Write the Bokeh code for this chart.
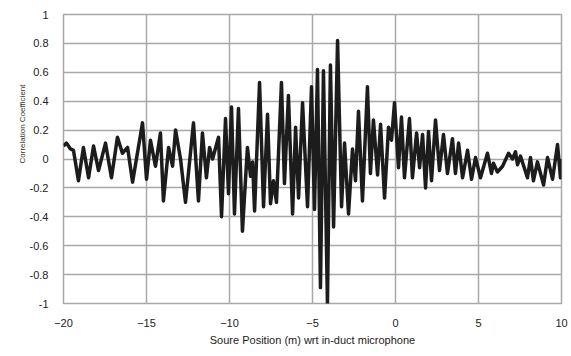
from bokeh.plotting import figure
from bokeh.models import FixedTicker, Title
from bokeh.embed import file_html
from bokeh.resources import INLINE

# Source position (m) and correlation coefficient
position = [-20.00, -19.82, -19.58, -19.40, -19.10, -18.80, -18.49, -18.19, -17.89, -17.47,
            -17.11, -16.75, -16.45, -16.14, -15.84, -15.24, -15.00, -14.76, -14.46, -14.16,
            -13.98, -13.67, -13.43, -13.25, -12.95, -12.65, -12.17, -11.87, -11.63, -11.39,
            -11.20, -11.02, -10.66, -10.48, -10.24, -10.06, -9.88, -9.70, -9.46, -9.22,
            -8.92, -8.73, -8.61, -8.49, -8.19, -7.95, -7.71, -7.53, -7.35, -7.17,
            -6.87, -6.69, -6.45, -6.20, -6.02, -5.84, -5.60, -5.30, -5.06, -4.88,
            -4.70, -4.52, -4.34, -4.10, -3.92, -3.73, -3.49, -3.25, -3.07, -2.83,
            -2.59, -2.41, -2.23, -1.99, -1.69, -1.51, -1.33, -1.08, -0.90, -0.66,
            -0.42, -0.24, -0.06, 0.18, 0.36, 0.54, 0.84, 1.02, 1.27, 1.45,
            1.63, 1.81, 1.99, 2.17, 2.41, 2.65, 2.89, 3.13, 3.43, 3.61,
            3.80, 4.04, 4.34, 4.58, 4.82, 5.12, 5.54, 5.78, 5.90, 6.14,
            6.45, 6.81, 7.05, 7.23, 7.35, 7.53, 7.95, 8.13, 8.31, 8.55,
            8.92, 9.16, 9.46, 9.76, 9.94, 10.00]
correlation = [0.09, 0.11, 0.07, 0.06, -0.15, 0.08, -0.13, 0.09, -0.08, 0.11,
               -0.13, 0.15, 0.04, 0.08, -0.16, 0.25, -0.14, 0.13, -0.05, 0.18,
               -0.29, 0.08, -0.05, 0.20, 0.00, -0.30, 0.25, -0.29, 0.18, -0.13,
               0.08, 0.00, 0.15, -0.40, 0.28, -0.24, 0.36, -0.38, 0.35, -0.50,
               0.08, -0.12, -0.02, -0.36, 0.53, -0.33, 0.31, -0.31, -0.15, -0.30,
               0.53, -0.17, 0.44, -0.38, 0.22, -0.27, 0.39, -0.33, 0.50, -0.35,
               0.62, -0.89, 0.61, -1.00, 0.65, -0.47, 0.82, -0.33, 0.11, -0.38,
               0.07, -0.15, 0.33, -0.29, 0.50, -0.10, 0.27, -0.11, 0.24, -0.27,
               0.22, 0.13, 0.39, -0.06, 0.29, -0.13, 0.28, -0.13, 0.18, -0.06,
               0.17, -0.20, 0.19, -0.15, 0.27, -0.08, 0.17, -0.10, 0.14, -0.10,
               0.11, -0.13, 0.06, -0.14, 0.01, -0.13, 0.04, -0.10, -0.03, -0.09,
               -0.05, 0.04, 0.00, 0.05, -0.04, 0.02, -0.13, 0.01, -0.15, -0.02,
               -0.18, 0.01, -0.14, 0.10, -0.13, 0.00]

x_ticks = [-20, -15, -10, -5, 0, 5, 10]
y_ticks = [-1.0, -0.8, -0.6, -0.4, -0.2, 0.0, 0.2, 0.4, 0.6, 0.8, 1.0]
y_tick_labels = ["-1", "-0.8", "-0.6", "-0.4", "-0.2", "0", "0.2", "0.4", "0.6", "0.8", "1"]

x_title = "Soure Position (m) wrt in-duct microphone"
y_title = "Correlation Coefficient"

FONT = "Liberation Sans"
GRID = "#a8a8a8"

p = figure(width=568, height=352, x_range=(-20, 10), y_range=(-1, 1),
           output_backend="svg", toolbar_location=None,
           min_border_left=63, min_border_right=7, min_border_top=14, min_border_bottom=49)

p.background_fill_color = "white"
p.border_fill_color = "white"
p.outline_line_color = GRID
p.outline_line_width = 1.5

p.xgrid.grid_line_color = GRID
p.ygrid.grid_line_color = GRID
p.xgrid.grid_line_width = 1.5
p.ygrid.grid_line_width = 1.5

p.xaxis.ticker = FixedTicker(ticks=x_ticks)
p.yaxis.ticker = FixedTicker(ticks=y_ticks)
p.yaxis.major_label_overrides = {v: s for v, s in zip(y_ticks, y_tick_labels)}

for ax in (p.xaxis[0], p.yaxis[0]):
    ax.axis_line_color = None
    ax.major_tick_line_color = None
    ax.minor_tick_line_color = None
    ax.major_label_text_font = FONT
    ax.major_label_text_font_size = "11px"
    ax.major_label_text_color = "#222222"

p.xaxis.major_label_standoff = 9
p.yaxis.major_label_standoff = 9
p.xaxis.axis_label = x_title
p.xaxis.axis_label_text_font = FONT
p.xaxis.axis_label_text_font_size = "11px"
p.xaxis.axis_label_text_font_style = "normal"
p.xaxis.axis_label_text_color = "#222222"
p.xaxis.axis_label_standoff = 4

p.line(position, correlation, line_color="#1c1c1c", line_width=3.5, line_join="round")

p.add_layout(Title(text=y_title, align="left", offset=140, text_font=FONT,
                   text_font_size="8px", text_font_style="normal", text_color="#333333",
                   standoff=0), "left")

open("out.html", "w").write(file_html(p, INLINE))
